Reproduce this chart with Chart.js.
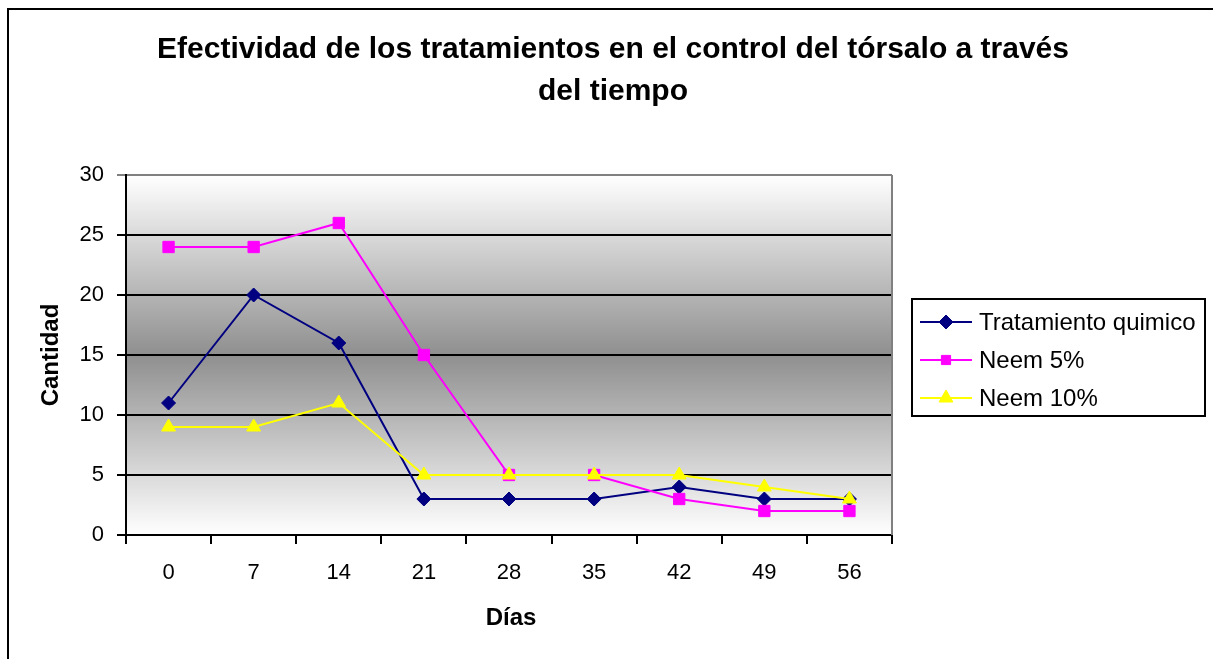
<!DOCTYPE html>
<html>
<head>
<meta charset="utf-8">
<script src="https://cdn.jsdelivr.net/npm/chart.js@4.4.1/dist/chart.umd.min.js"></script>
<style>
  html, body { margin: 0; padding: 0; background: #fff; }
  #wrap { width: 1213px; height: 659px; }
</style>
</head>
<body>
<div id="wrap"><canvas id="c" width="1213" height="659"></canvas></div>
<script>
const categories = ['0', '7', '14', '21', '28', '35', '42', '49', '56'];
const tratamientoQuimico = [11, 20, 16, 3, 3, 3, 4, 3, 3];
const neem5 = [24, 24, 26, 15, 5, 5, 3, 2, 2];
const neem10 = [9, 9, 11, 5, 5, 5, 5, 4, 3];
const seriesNames = ['Tratamiento quimico', 'Neem 5%', 'Neem 10%'];
const titleLines = ['Efectividad de los tratamientos en el control del tórsalo a través', 'del tiempo'];
const xTitle = 'Días';
const yTitle = 'Cantidad';

const FONT = '"Liberation Sans", Arial, sans-serif';
const colors = ['#000080', '#FF00FF', '#FFFF00'];
const styles = ['rectRot', 'rect', 'triangle'];
const radii = [7, 8, 8];

const decor = {
  id: 'decor',
  beforeDraw(chart) {
    const ctx = chart.ctx, a = chart.chartArea;
    ctx.save();
    ctx.fillStyle = '#fff';
    ctx.fillRect(0, 0, chart.width, chart.height);
    ctx.strokeStyle = '#000';
    ctx.lineWidth = 2;
    ctx.beginPath();
    ctx.moveTo(8, 660); ctx.lineTo(8, 9); ctx.lineTo(1214, 9);
    ctx.stroke();
    const g = ctx.createLinearGradient(0, a.top, 0, a.bottom);
    g.addColorStop(0, '#ffffff');
    g.addColorStop(0.5, '#8f8f8f');
    g.addColorStop(1, '#ffffff');
    ctx.fillStyle = g;
    ctx.fillRect(a.left, a.top, a.right - a.left, a.bottom - a.top);
    ctx.restore();
  },
  afterDraw(chart) {
    const ctx = chart.ctx, a = chart.chartArea;
    ctx.save();
    ctx.strokeStyle = '#808080';
    ctx.lineWidth = 2;
    ctx.beginPath();
    ctx.moveTo(a.right, a.top); ctx.lineTo(a.right, a.bottom);
    ctx.stroke();
    ctx.fillStyle = '#000';
    ctx.textAlign = 'center';
    ctx.textBaseline = 'middle';
    ctx.font = 'bold 30px ' + FONT;
    ctx.fillText(titleLines[0], 613, 50);
    ctx.fillText(titleLines[1], 613, 92);
    ctx.font = 'bold 24px ' + FONT;
    ctx.fillText(xTitle, 511, 618);
    ctx.save();
    ctx.translate(51, 355);
    ctx.rotate(-Math.PI / 2);
    ctx.fillText(yTitle, 0, 0);
    ctx.restore();
    ctx.fillStyle = '#fff';
    ctx.fillRect(912, 299, 293, 117);
    ctx.strokeStyle = '#000';
    ctx.lineWidth = 2;
    ctx.strokeRect(912, 299, 293, 117);
    const ys = [322, 360, 398];
    for (let i = 0; i < 3; i++) {
      const ds = chart.data.datasets[i];
      ctx.strokeStyle = ds.borderColor;
      ctx.lineWidth = 2;
      ctx.beginPath();
      ctx.moveTo(920, ys[i]); ctx.lineTo(972, ys[i]);
      ctx.stroke();
      ctx.fillStyle = ds.pointBackgroundColor;
      ctx.strokeStyle = ds.pointBorderColor;
      ctx.lineWidth = 1;
      Chart.helpers.drawPoint(ctx, { pointStyle: styles[i], radius: radii[i] - (i === 1 ? 1.5 : 0), rotation: 0, borderWidth: 1 }, 946, ys[i]);
      ctx.fillStyle = '#000';
      ctx.textAlign = 'left';
      ctx.textBaseline = 'middle';
      ctx.font = '24px ' + FONT;
      ctx.fillText(seriesNames[i], 979, ys[i] + 1);
    }
    ctx.restore();
  }
};

const seriesData = [tratamientoQuimico, neem5, neem10];
const datasets = seriesData.map((d, i) => ({
  label: seriesNames[i],
  data: d,
  borderColor: colors[i],
  backgroundColor: colors[i],
  pointBackgroundColor: colors[i],
  pointBorderColor: colors[i],
  borderWidth: 2,
  pointStyle: styles[i],
  pointRadius: radii[i],
  pointHoverRadius: radii[i],
  pointBorderWidth: 1,
  tension: 0,
  fill: false,
  order: 3 - i
}));

new Chart(document.getElementById('c'), {
  type: 'line',
  data: { labels: categories, datasets },
  options: {
    responsive: false,
    animation: false,
    devicePixelRatio: 1,
    layout: { padding: { left: 0, top: 175, right: 321, bottom: 0 } },
    plugins: { legend: { display: false }, title: { display: false }, tooltip: { enabled: false } },
    scales: {
      x: {
        offset: true,
        afterFit(s) { s.height = 124; },
        grid: { offset: true, drawOnChartArea: false, drawTicks: true, tickLength: 9, color: '#000', lineWidth: 2 },
        border: { color: '#000', width: 2 },
        ticks: { color: '#000', font: { family: FONT, size: 22 }, padding: 16, maxRotation: 0 }
      },
      y: {
        min: 0, max: 30,
        afterFit(s) { s.width = 126; },
        grid: {
          color: (c) => (c.tick && c.tick.value === 30 ? '#808080' : '#000'),
          lineWidth: 2, tickLength: 9, drawTicks: true
        },
        border: { color: '#000', width: 2 },
        ticks: { stepSize: 5, color: '#000', font: { family: FONT, size: 22 }, padding: 13 }
      }
    }
  },
  plugins: [decor]
});
</script>
</body>
</html>
